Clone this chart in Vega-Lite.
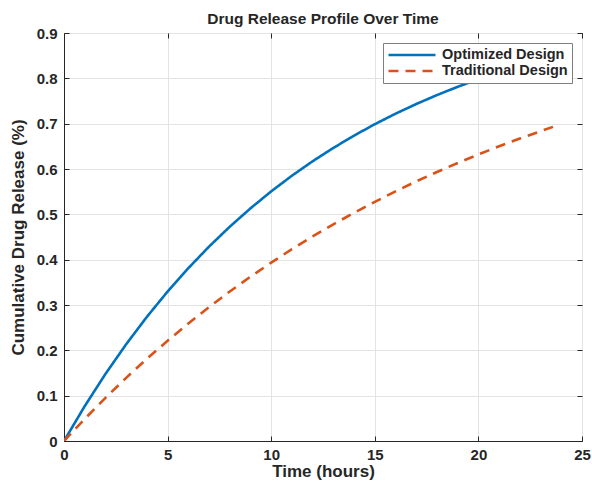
{
  "$schema": "https://vega.github.io/schema/vega-lite/v6.json",
  "autosize": {"type": "none"},
  "width": 518,
  "height": 408,
  "padding": {"left": 64, "top": 33, "right": 10, "bottom": 45},
  "background": "white",
  "config": {
    "font": "Liberation Sans",
    "view": {"stroke": "#262626", "strokeWidth": 1},
    "axis": {
      "labelFont": "Liberation Sans",
      "labelFontWeight": "bold",
      "labelFontSize": 15,
      "labelColor": "#262626",
      "labelFlush": false,
      "titleFont": "Liberation Sans",
      "titleFontWeight": "bold",
      "titleFontSize": 17,
      "titleColor": "#262626",
      "domainColor": "#262626",
      "tickColor": "#262626",
      "gridColor": "#e3e3e3",
      "gridWidth": 1
    }
  },
  "title": {
    "text": "Drug Release Profile Over Time",
    "font": "Liberation Sans",
    "fontSize": 15.5,
    "fontWeight": "bold",
    "color": "#262626",
    "anchor": "middle",
    "offset": 4,
    "dy": 5
  },
  "data": {
    "values": [
      {"t": 0, "r": 0, "s": "Optimized Design"},
      {"t": 1, "r": 0.0769, "s": "Optimized Design"},
      {"t": 2, "r": 0.1479, "s": "Optimized Design"},
      {"t": 3, "r": 0.2134, "s": "Optimized Design"},
      {"t": 4, "r": 0.2739, "s": "Optimized Design"},
      {"t": 5, "r": 0.3297, "s": "Optimized Design"},
      {"t": 6, "r": 0.3812, "s": "Optimized Design"},
      {"t": 7, "r": 0.4288, "s": "Optimized Design"},
      {"t": 8, "r": 0.4727, "s": "Optimized Design"},
      {"t": 9, "r": 0.5132, "s": "Optimized Design"},
      {"t": 10, "r": 0.5507, "s": "Optimized Design"},
      {"t": 11, "r": 0.5852, "s": "Optimized Design"},
      {"t": 12, "r": 0.6171, "s": "Optimized Design"},
      {"t": 13, "r": 0.6465, "s": "Optimized Design"},
      {"t": 14, "r": 0.6737, "s": "Optimized Design"},
      {"t": 15, "r": 0.6988, "s": "Optimized Design"},
      {"t": 16, "r": 0.722, "s": "Optimized Design"},
      {"t": 17, "r": 0.7433, "s": "Optimized Design"},
      {"t": 18, "r": 0.7631, "s": "Optimized Design"},
      {"t": 19, "r": 0.7813, "s": "Optimized Design"},
      {"t": 20, "r": 0.7981, "s": "Optimized Design"},
      {"t": 21, "r": 0.8136, "s": "Optimized Design"},
      {"t": 22, "r": 0.828, "s": "Optimized Design"},
      {"t": 23, "r": 0.8412, "s": "Optimized Design"},
      {"t": 24, "r": 0.8534, "s": "Optimized Design"},
      {"t": 0, "r": 0, "s": "Traditional Design"},
      {"t": 1, "r": 0.0488, "s": "Traditional Design"},
      {"t": 2, "r": 0.0952, "s": "Traditional Design"},
      {"t": 3, "r": 0.1393, "s": "Traditional Design"},
      {"t": 4, "r": 0.1813, "s": "Traditional Design"},
      {"t": 5, "r": 0.2212, "s": "Traditional Design"},
      {"t": 6, "r": 0.2592, "s": "Traditional Design"},
      {"t": 7, "r": 0.2953, "s": "Traditional Design"},
      {"t": 8, "r": 0.3297, "s": "Traditional Design"},
      {"t": 9, "r": 0.3624, "s": "Traditional Design"},
      {"t": 10, "r": 0.3935, "s": "Traditional Design"},
      {"t": 11, "r": 0.4231, "s": "Traditional Design"},
      {"t": 12, "r": 0.4512, "s": "Traditional Design"},
      {"t": 13, "r": 0.478, "s": "Traditional Design"},
      {"t": 14, "r": 0.5034, "s": "Traditional Design"},
      {"t": 15, "r": 0.5276, "s": "Traditional Design"},
      {"t": 16, "r": 0.5507, "s": "Traditional Design"},
      {"t": 17, "r": 0.5726, "s": "Traditional Design"},
      {"t": 18, "r": 0.5934, "s": "Traditional Design"},
      {"t": 19, "r": 0.6133, "s": "Traditional Design"},
      {"t": 20, "r": 0.6321, "s": "Traditional Design"},
      {"t": 21, "r": 0.6501, "s": "Traditional Design"},
      {"t": 22, "r": 0.6671, "s": "Traditional Design"},
      {"t": 23, "r": 0.6834, "s": "Traditional Design"},
      {"t": 23.6, "r": 0.6929, "s": "Traditional Design"}
    ]
  },
  "layer": [
    {
      "mark": {"type": "point", "opacity": 0},
      "encoding": {
        "x": {
          "field": "t",
          "type": "quantitative",
          "scale": {"domain": [0, 25], "nice": false},
          "axis": {"orient": "top", "title": null, "labels": false, "domain": false, "grid": false, "values": [0, 5, 10, 15, 20, 25], "tickSize": -5}
        },
        "y": {
          "field": "r",
          "type": "quantitative",
          "scale": {"domain": [0, 0.9], "nice": false},
          "axis": {"orient": "right", "title": null, "labels": false, "domain": false, "grid": false, "values": [0, 0.1, 0.2, 0.3, 0.4, 0.5, 0.6, 0.7, 0.8, 0.9], "tickSize": -5}
        }
      }
    },
    {
      "mark": {"type": "line", "strokeWidth": 2.6, "clip": true},
      "encoding": {
        "x": {
          "field": "t",
          "type": "quantitative",
          "scale": {"domain": [0, 25], "nice": false},
          "axis": {"orient": "bottom", "title": "Time (hours)", "values": [0, 5, 10, 15, 20, 25], "format": "d", "tickSize": -5, "labelPadding": 11, "titlePadding": 1, "grid": true}
        },
        "y": {
          "field": "r",
          "type": "quantitative",
          "scale": {"domain": [0, 0.9], "nice": false},
          "axis": {"orient": "left", "title": "Cumulative Drug Release (%)", "values": [0, 0.1, 0.2, 0.3, 0.4, 0.5, 0.6, 0.7, 0.8, 0.9], "labelExpr": "datum.value == 0 ? '0' : format(datum.value, '.1f')", "tickSize": -5, "labelPadding": 12, "titlePadding": 9, "grid": true}
        },
        "color": {
          "field": "s",
          "type": "nominal",
          "scale": {"domain": ["Optimized Design", "Traditional Design"], "range": ["#0072BD", "#D95319"]},
          "legend": {
            "title": null,
            "orient": "top-right",
            "offset": 10,
            "fillColor": "white",
            "strokeColor": "#7f7f7f",
            "padding": 4,
            "rowPadding": 0,
            "clipHeight": 16,
            "labelFont": "Liberation Sans",
            "labelFontWeight": "bold",
            "labelFontSize": 14.5,
            "labelColor": "#262626",
            "symbolType": "stroke",
            "symbolSize": 2209,
            "symbolStrokeWidth": 2.6,
            "labelOffset": 5
          }
        },
        "strokeDash": {
          "field": "s",
          "type": "nominal",
          "scale": {"domain": ["Optimized Design", "Traditional Design"], "range": [[1, 0], [10, 7]]},
          "legend": null
        }
      }
    }
  ],
  "resolve": {"axis": {"x": "independent", "y": "independent"}}
}
